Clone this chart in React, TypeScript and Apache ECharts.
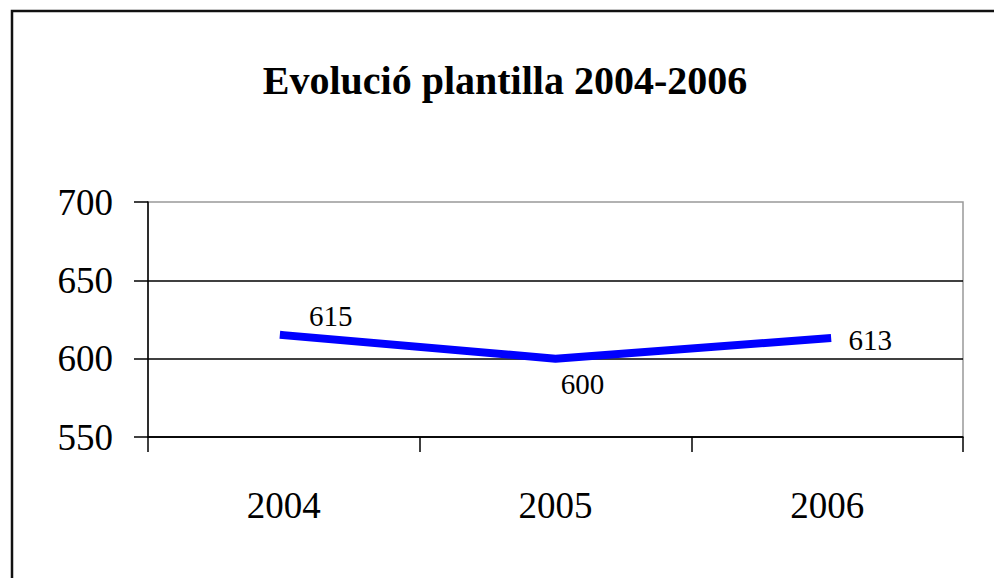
import React, { useEffect, useRef } from "react";
import * as echarts from "echarts";

const categories = ["2004", "2005", "2006"];
const plantilla = [615, 600, 613];
const yTicks = { min: 550, max: 700, interval: 50 };
const titleText = "Evolució plantilla 2004-2006";
const labelOffsets: [number, number][] = [
  [47, -19],
  [27, 25],
  [43, 2],
];

export default function App() {
  const ref = useRef<HTMLDivElement>(null);
  useEffect(() => {
    if (!ref.current) return;
    const chart = echarts.init(ref.current, undefined, { renderer: "svg" });
    const serif = "'Liberation Serif', 'Times New Roman', serif";
    chart.setOption({
      animation: false,
      backgroundColor: "#ffffff",
      grid: {
        left: 148,
        top: 202,
        right: 31,
        bottom: 141,
        show: true,
        borderColor: "#999999",
        borderWidth: 1.5,
        backgroundColor: "transparent",
      },
      graphic: [
        {
          type: "polyline",
          shape: { points: [[12, 600], [12, 11], [1000, 11]] },
          style: { stroke: "#111111", lineWidth: 2.5, fill: "none" },
          z: 100,
        },
        {
          type: "text",
          x: 505,
          y: 80,
          style: {
            text: titleText,
            font: `bold 40px ${serif}`,
            fill: "#000000",
            align: "center",
            verticalAlign: "middle",
          },
        },
      ],
      xAxis: {
        type: "category",
        data: categories,
        boundaryGap: true,
        axisLine: { show: true, lineStyle: { color: "#000000", width: 1.5 } },
        axisTick: {
          show: true,
          alignWithLabel: false,
          length: 15,
          lineStyle: { color: "#000000", width: 1.5 },
        },
        axisLabel: {
          margin: 50,
          color: "#000000",
          fontFamily: serif,
          fontSize: 37,
        },
        splitLine: { show: false },
      },
      yAxis: {
        type: "value",
        min: yTicks.min,
        max: yTicks.max,
        interval: yTicks.interval,
        axisLine: { show: true, lineStyle: { color: "#000000", width: 1.5 } },
        axisTick: { show: true, length: 14, lineStyle: { color: "#000000", width: 1.5 } },
        axisLabel: {
          margin: 35,
          color: "#000000",
          fontFamily: serif,
          fontSize: 37,
        },
        splitLine: {
          show: true,
          showMaxLine: false,
          lineStyle: { color: "#000000", width: 1.5 },
        },
      },
      series: [
        {
          type: "line",
          data: plantilla.map((v, i) => ({
            value: v,
            label: { offset: labelOffsets[i] },
          })),
          symbol: "circle",
          symbolSize: 1,
          showSymbol: true,
          itemStyle: { color: "transparent", borderColor: "transparent" },
          lineStyle: { color: "#0000ff", width: 8, cap: "square" },
          label: {
            show: true,
            position: "inside",
            align: "center",
            verticalAlign: "middle",
            color: "#000000",
            fontFamily: serif,
            fontSize: 29,
          },
          z: 10,
        },
      ],
    });
    return () => chart.dispose();
  }, []);
  return (
    <div
      ref={ref}
      style={{ position: "absolute", left: 0, top: 0, width: 994, height: 578 }}
    />
  );
}
